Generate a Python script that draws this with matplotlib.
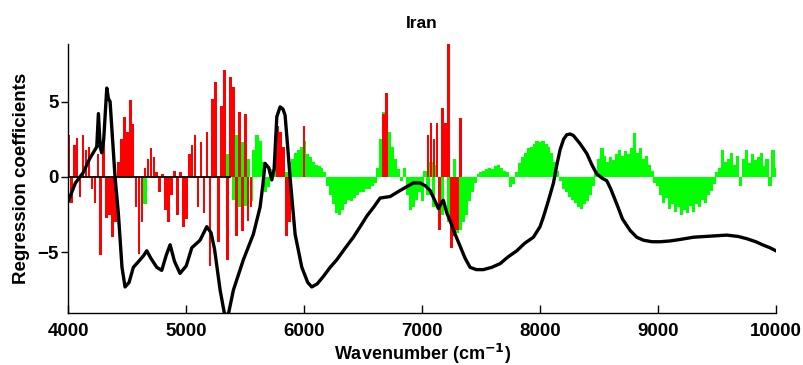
import numpy as np
import matplotlib.pyplot as plt

plt.rcParams['font.family'] = ['Liberation Sans', 'DejaVu Sans']
plt.rcParams['font.weight'] = 'bold'

# regression coefficients (green), one value every 25 cm-1 from 4000 to 10000
coef_step = 25
coef = [
    0, 0, 0, 0, 0, 0, 0, 0, 0, 0,                                  # 4000
    0, 0, 0, 0, 0, 0, 0, 0, 0, 0,                                  # 4250
    0, 0, 0, 0, 0, 0, -1.8, 0, 0, 0,                               # 4500
    0, 0, 0, 0, 0, 0, 0, 0, 0, 0,                                  # 4750
    0, 0, 0, 0, 0, 0, 0, 0, 0, 0,                                  # 5000
    0, 0, 0, 0, 1.5, 2.2, -1.5, 2.8, -2.0, 2.3,                    # 5250
    -1.9, 1.2, -1.6, 1.8, 2.8, 2.4, 1.0, -1.0, -0.7, 0.5,          # 5500
    0.9, 1.5, 1.2, 0.8, 0.3, 1.0, 1.2, 1.6, 1.8, 2.0,              # 5750
    2.4, 1.5, 1.3, 1.0, 0.8, 0.7, 0.6, 0.3, -0.6, -1.2,            # 6000
    -1.8, -2.4, -2.5, -2.2, -1.8, -1.5, -1.6, -1.4, -1.2, -1.0,    # 6250
    -1.0, -0.8, -0.8, -0.6, -0.4, 0.6, 2.5, 4.3, 4.0, 3.0,         # 6500
    2.0, 1.2, 0.5, -0.3, 0.6, -1.2, -2.2, -2.0, -1.5, -1.0,        # 6750
    -1.6, 0.4, -1.2, 1.0, -2.0, 0.8, -2.8, -2.5, 1.5, -3.0,        # 7000
    -3.5, 1.2, -3.7, -3.5, -3.0, -2.5, -1.6, -1.0, -0.4, 0.2,      # 7250
    0.3, 0.4, 0.5, 0.6, 0.5, 0.7, 0.8, 0.6, 0.4, 0.3,              # 7500
    -0.7, -0.5, 0.3, 0.9, 1.3, 1.6, 1.9, 2.0, 2.2, 2.4,            # 7750
    2.3, 2.4, 2.2, 2.0, 1.6, 1.0, 0.4, -0.3, -0.8, -1.0,           # 8000
    -1.3, -1.5, -1.7, -2.0, -2.1, -1.8, -1.6, -1.2, -0.6, 0.4,     # 8250
    1.2, 1.9, 1.4, 1.0, 1.3, 1.1, 1.5, 1.8, 1.4, 1.7,              # 8500
    1.5, 1.9, 2.9, 1.6, 1.9, 1.2, 1.4, 0.8, 0.4, -0.4,             # 8750
    -0.6, -1.2, -1.7, -1.4, -2.1, -1.8, -2.3, -2.0, -2.5, -2.2,    # 9000
    -2.4, -1.9, -2.3, -1.8, -2.0, -1.5, -1.7, -1.2, -0.9, -0.5,    # 9250
    0.3, 0.6, 1.8, 1.0, 1.2, 1.6, 0.8, 1.4, -0.6, 1.2,             # 9500
    1.8, 0.9, 1.5, 1.1, 1.3, 1.6, 0.7, 1.2, -0.6, 1.8,             # 9750
    0.6,                                                           # 10000
]
coef_wn = 4000 + coef_step * np.arange(len(coef))

# selected-variable coefficients (red), in blocks
red_a_start = 4000
red_a = [
    2.8, -1.7, 2.1, 2.6, -1.3, 2.8, 1.8, 2.0, -0.8, -1.7,
    1.5, -5.2, 2.3, -2.7, -2.5, -4.0, -3.0, 1.0, 2.5, 4.0,
    3.0, 5.1, 3.5, -2.0, -5.1, -3.0, 0.6, 1.2, 1.9, 1.3,
    0.3, -1.0, 0.2, -2.2, -3.0, -1.2, 0.4, -2.5, 0.3, -3.3,
    -2.8, 1.5, 2.1, 2.8, -2.0, 2.3, -2.4, 3.0, -5.9, 5.2,
    6.3, -4.3, 4.7, 7.1, -5.5, 6.6, 6.0, -3.9, 4.3, -3.6,
    4.2, -2.9, -2.0,
]
red_b_start = 5775
red_b = [3.4, 3.0, 2.0, -3.9, -3.0]
red_c_start = 6000
red_c = [3.4]
red_d_start = 6675
red_d = [4.2, 5.6]
red_e_start = 7050
red_e = [2.8, 3.6, 2.5, 3.6, -3.5, 4.6, 3.6, 8.9, -4.7, -3.9, -3.5, 3.9]

red_blocks = [(red_a_start, red_a), (red_b_start, red_b), (red_c_start, red_c),
              (red_d_start, red_d), (red_e_start, red_e)]

# scaled spectrum (black line)
spec_wn = [4000, 4060, 4127, 4180, 4241, 4255, 4270, 4283, 4300, 4315, 4326, 4340,
           4354, 4375, 4396, 4424, 4455, 4481, 4515, 4551, 4608, 4640, 4665, 4700,
           4750, 4792, 4830, 4863, 4900, 4947, 5000, 5047, 5117, 5174, 5210, 5240,
           5287, 5329, 5360, 5400, 5484, 5569, 5626, 5650, 5668, 5700, 5725, 5745,
           5768, 5796, 5820, 5838, 5860, 5880, 5923, 5980, 6030, 6064, 6110, 6163,
           6220, 6276, 6350, 6417, 6475, 6531, 6590, 6644, 6729, 6813, 6880, 6926,
           6983, 7030, 7068, 7110, 7138, 7165, 7180, 7210, 7237, 7280, 7322, 7365,
           7407, 7460, 7520, 7590, 7662, 7730, 7803, 7870, 7944, 8000, 8029, 8070,
           8114, 8140, 8170, 8200, 8227, 8255, 8283, 8340, 8397, 8440, 8481, 8530,
           8566, 8600, 8651, 8700, 8764, 8820, 8877, 8950, 9019, 9100, 9188, 9300,
           9443, 9584, 9680, 9754, 9830, 9895, 9950, 10000]
spec_val = [-1.6, -0.4, 0.3, 1.2, 2.0, 4.2, 2.0, 1.6, 2.5, 4.5, 5.9, 5.2,
            5.0, 2.5, 0.0, -2.4, -6.0, -7.3, -7.0, -6.0, -5.5, -5.2, -4.9, -5.4,
            -6.0, -6.2, -5.2, -4.5, -5.6, -6.4, -5.9, -4.7, -4.2, -3.3, -3.7, -4.8,
            -7.5, -9.3, -9.0, -7.5, -5.5, -3.8, -2.0, -0.5, 0.9, 0.6, -0.2, 0.5,
            4.0, 4.65, 4.5, 4.1, 2.0, 0.0, -3.8, -6.0, -7.0, -7.3, -7.1, -6.6,
            -6.0, -5.5, -4.7, -4.0, -3.3, -2.6, -2.0, -1.4, -1.3, -0.9, -0.6, -0.4,
            -0.4, -0.6, -0.9, -1.6, -2.1, -1.7, -1.55, -2.4, -2.9, -3.8, -4.6, -5.4,
            -6.0, -6.15, -6.15, -6.0, -5.75, -5.3, -4.9, -4.4, -4.0, -3.3, -2.65, -1.6,
            -0.4, 0.7, 1.8, 2.5, 2.8, 2.85, 2.75, 2.2, 1.55, 0.8, 0.2, -0.1,
            -0.25, -0.8, -1.8, -2.8, -3.55, -4.0, -4.2, -4.3, -4.3, -4.25, -4.15, -4.0,
            -3.93, -3.86, -3.95, -4.1, -4.3, -4.53, -4.7, -4.9]

fig = plt.figure(figsize=(8.04, 3.65), dpi=100)
ax = fig.add_axes([0.085, 0.1416, 0.88, 0.739])

ax.bar(coef_wn, coef, width=coef_step + 2, color='#00ff00', linewidth=0,
       antialiased=False, zorder=1)
for start, vals in red_blocks:
    wn = start + coef_step * np.arange(len(vals))
    ax.bar(wn, vals, width=22, color='#ff0000', linewidth=0,
           antialiased=False, zorder=2)

ax.plot([4000, 5375], [0, 0], color='black', lw=1.3, zorder=3)
ax.plot(spec_wn, spec_val, color='black', lw=2.4, zorder=4)

ax.set_xlim(4000, 10000)
ax.set_ylim(-9.05, 8.85)
ax.set_xticks([4000, 5000, 6000, 7000, 8000, 9000, 10000])
ax.set_yticks([-5, 0, 5])
ax.set_yticklabels(['\u22125', '0', '5'])
ax.tick_params(axis='x', direction='in', length=6, width=1, pad=7, labelsize=13.5)
ax.tick_params(axis='y', direction='out', length=5, width=1, pad=2, labelsize=13.5)
for lab in ax.get_xticklabels() + ax.get_yticklabels():
    lab.set_fontweight('bold')

ax.spines['top'].set_visible(False)
ax.spines['right'].set_visible(False)
ax.spines['left'].set_linewidth(1)
ax.spines['bottom'].set_linewidth(1)

ax.set_xlabel('Wavenumber (cm$^{\\mathbf{-1}}$)', fontsize=13, fontweight='bold', labelpad=1)
ax.set_ylabel('Regression coefficients', fontsize=13.5, fontweight='bold', labelpad=5)
ax.set_title('Iran', fontsize=12.5, fontweight='bold', pad=11)

plt.savefig('out.png', dpi=100)
